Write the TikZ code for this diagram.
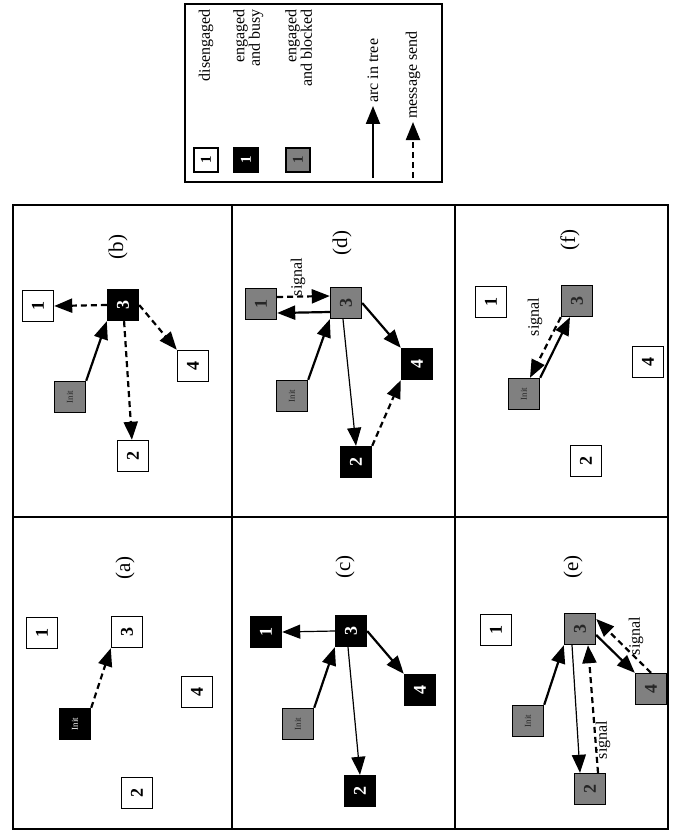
\documentclass[tikz,border=0pt]{standalone}
\usepackage{graphicx}
\usepackage{fontspec}
\setmainfont{Liberation Serif}
\usetikzlibrary{arrows.meta,calc}

\newcommand{\turntext}[1]{\rotatebox{90}{#1}}
\newcommand{\initfont}{\fontsize{9}{9}\selectfont\mdseries}

\tikzset{
  node box/.style={draw=black, line width=1.4pt, minimum size=31pt, inner sep=0pt,
    font=\fontsize{18}{18}\selectfont\bfseries},
  idle/.style={node box, fill=white},
  busy/.style={node box, fill=black, text=white},
  blocked/.style={node box, fill=black!50, text=black!85},
  key box/.style={minimum size=24pt, font=\fontsize{15}{15}\selectfont\bfseries},
  tip/.style={-{Triangle[length=18pt,width=14pt]}},
  tree arc/.style={tip, line width=2.2pt},
  thin arc/.style={tip, line width=1.2pt},
  msg/.style={tip, line width=2.2pt, dash pattern=on 6pt off 4pt},
  panel label/.style={rotate=90, font=\fontsize{21}{21}\selectfont},
  sig/.style={rotate=90, font=\fontsize{16}{16}\selectfont, inner sep=0pt},
  key text/.style={rotate=90, align=right, inner sep=1pt,
    font=\fontsize{16}{14}\selectfont},
  frame/.style={line width=1.5pt},
  divider/.style={line width=2.5pt},
}

\begin{document}
\begin{tikzpicture}[x=1pt,y=-1pt]
\useasboundingbox (0,0) rectangle (678,832);

% ---------- key ----------
\draw[frame] (185,4) rectangle (442,182);
\node[idle, key box] (k1) at (206,160) {\turntext{1}};
\node[key text, anchor=east] (k1t) at (206,8) {disengaged};
\node[busy, key box] (k2) at (246,160) {\turntext{1}};
\node[key text, anchor=north east] (k2t) at (232,8) {engaged\\and busy};
\node[blocked, key box] (k3) at (298,160) {\turntext{1}};
\node[key text, anchor=north east] (k3t) at (284,8) {engaged\\and blocked};
\coordinate (ka0) at (373,178);
\coordinate (ka1) at (373,106);
\draw[tree arc] (ka0) -- (ka1);
\node[key text, anchor=west] (kat) at (373,104) {arc in tree};
\coordinate (km0) at (413,178);
\coordinate (km1) at (413,122);
\draw[msg] (km0) -- (km1);
\node[key text, anchor=west] (kmt) at (413,120) {message send};

% ---------- panel grid ----------
\draw[frame] (13,205) rectangle (668,829);
\draw[divider] (232,205) -- (232,829);
\draw[divider] (455,205) -- (455,829);
\draw[line width=2pt] (13,517) -- (668,517);

% ---------- (a) ----------
\node[panel label] (la) at (125,568) {(a)};
\node[idle] (a1) at (42,633) {\turntext{1}};
\node[idle] (a3) at (127,632) {\turntext{3}};
\node[busy] (ai) at (75,724) {\turntext{\initfont Init}};
\node[idle] (a4) at (197,692) {\turntext{4}};
\node[idle] (a2) at (137,793) {\turntext{2}};
\draw[msg] (ai.north east) -- (a3.south west);

% ---------- (b) ----------
\node[panel label] (lb) at (118,247) {(b)};
\node[idle] (b1) at (38,306) {\turntext{1}};
\node[busy] (b3) at (123,305) {\turntext{3}};
\node[blocked] (bi) at (70,397) {\turntext{\initfont Init}};
\node[idle] (b4) at (193,366) {\turntext{4}};
\node[idle] (b2) at (133,456) {\turntext{2}};
\draw[msg] (b3.west) -- (b1.east);
\draw[tree arc] (bi.north east) -- (b3.south west);
\draw[msg] (b3) -- (b2);
\draw[msg] (b3.east) -- (b4.north west);

% ---------- (c) ----------
\node[panel label] (lc) at (345,567) {(c)};
\node[busy] (c1) at (266,632) {\turntext{1}};
\node[busy] (c3) at (351,631) {\turntext{3}};
\node[blocked] (ci) at (298,724) {\turntext{\initfont Init}};
\node[busy] (c4) at (420,690) {\turntext{4}};
\node[busy] (c2) at (360,791) {\turntext{2}};
\draw[thin arc] (c3.west) -- (c1.east);
\draw[tree arc] (ci.north east) -- (c3.south west);
\draw[thin arc] ([xshift=-3pt]c3.south) -- (c2.north);
\draw[tree arc] (c3.east) -- (c4.north west);

% ---------- (d) ----------
\node[panel label] (ld) at (342,243) {(d)};
\node[blocked] (d1) at (261,304) {\turntext{1}};
\node[blocked] (d3) at (346,303) {\turntext{3}};
\node[blocked] (di) at (292,396) {\turntext{\initfont Init}};
\node[busy] (d4) at (417,364) {\turntext{4}};
\node[busy] (d2) at (356,462) {\turntext{2}};
\draw[msg] ([yshift=7pt]d1.east) -- ([yshift=7pt]d3.west);
\draw[tree arc] ([yshift=-9pt]d3.west) -- ([yshift=-9pt]d1.east);
\node[sig] (sd) at (298,277) {signal};
\draw[tree arc] (di.north east) -- (d3.south west);
\draw[thin arc] ([xshift=-3pt]d3.south) -- (d2.north);
\draw[tree arc] (d3.east) -- (d4.north west);
\draw[msg] (d2.north east) -- (d4.south west);

% ---------- (e) ----------
\node[panel label] (le) at (573,567) {(e)};
\node[idle] (e1) at (496,630) {\turntext{1}};
\node[blocked] (e3) at (580,629) {\turntext{3}};
\node[blocked] (ei) at (528,721) {\turntext{\initfont Init}};
\node[blocked] (e4) at (651,689) {\turntext{4}};
\node[blocked] (e2) at (590,789) {\turntext{2}};
\draw[tree arc] (ei.north east) -- (e3.south west);
\draw[thin arc] ([xshift=-8pt]e3.south) -- ([xshift=-10pt]e2.north);
\draw[msg] ([xshift=8pt]e2.north) -- ([xshift=8pt]e3.south);
\node[sig] (se1) at (603,740) {signal};
\draw[tree arc] ([yshift=-6pt]e3.east) -- (e4.north west);
\draw[msg] (e4.north) -- ([yshift=10pt]e3.east);
\node[sig] (se2) at (636,636) {signal};

% ---------- (f) ----------
\node[panel label] (lf) at (570,240) {(f)};
\node[idle] (f1) at (491,302) {\turntext{1}};
\node[blocked] (f3) at (577,301) {\turntext{3}};
\node[blocked] (fi) at (524,394) {\turntext{\initfont Init}};
\node[idle] (f4) at (648,362) {\turntext{4}};
\node[idle] (f2) at (586,461) {\turntext{2}};
\draw[tree arc] (fi.north east) -- ([xshift=-7pt]f3.south);
\draw[msg] (f3.south west) -- ([xshift=6pt]fi.north);
\node[sig] (sf) at (535,317) {signal};
\end{tikzpicture}
\end{document}
